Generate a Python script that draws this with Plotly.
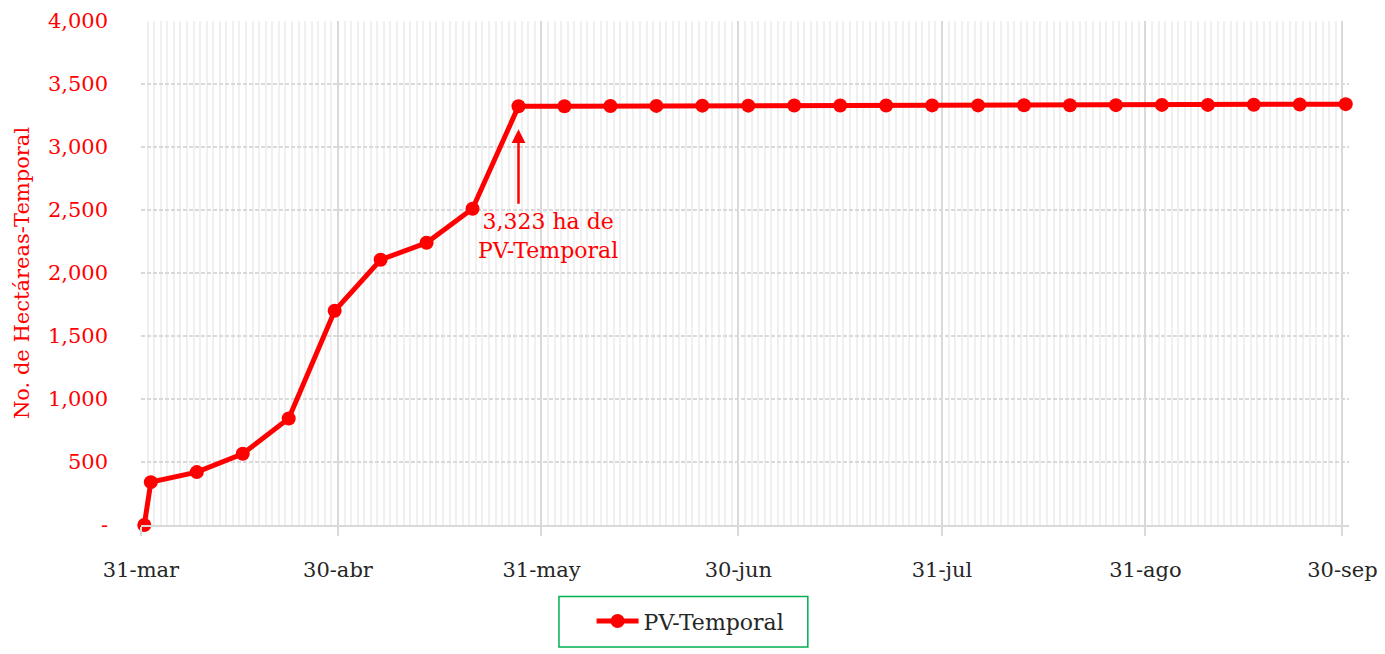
import plotly.graph_objects as go

dates = ["2023-03-31", "2023-04-01", "2023-04-08", "2023-04-15", "2023-04-22", "2023-04-29",
         "2023-05-06", "2023-05-13", "2023-05-20", "2023-05-27", "2023-06-03", "2023-06-10",
         "2023-06-17", "2023-06-24", "2023-07-01", "2023-07-08", "2023-07-15", "2023-07-22",
         "2023-07-29", "2023-08-05", "2023-08-12", "2023-08-19", "2023-08-26", "2023-09-02",
         "2023-09-09", "2023-09-16", "2023-09-23", "2023-09-30"]
hectareas = [0, 340, 420, 565, 845, 1700, 2105, 2240, 2510, 3323, 3324, 3325, 3326, 3328,
             3328, 3329, 3329, 3329, 3330, 3330, 3331, 3331, 3332, 3334, 3334, 3335, 3337, 3340]
tick_dates = ["2023-03-31", "2023-04-30", "2023-05-31", "2023-06-30", "2023-07-31",
              "2023-08-31", "2023-09-30"]
tick_labels = ["31-mar", "30-abr", "31-may", "30-jun", "31-jul", "31-ago", "30-sep"]
y_vals = [0, 500, 1000, 1500, 2000, 2500, 3000, 3500, 4000]
y_labels = ["-", "500", "1,000", "1,500", "2,000", "2,500", "3,000", "3,500", "4,000"]

RED = "#FF0000"
FONT = "DejaVu Serif"
DARK = "#262626"
x_noon = [d + " 12:00" for d in dates]

fig = go.Figure()
fig.add_trace(go.Scatter(
    x=x_noon, y=hectareas, mode="lines+markers", name="PV-Temporal",
    line=dict(color=RED, width=5), marker=dict(color=RED, size=14),
    cliponaxis=False,
))

# arrow
fig.add_annotation(x=x_noon[9], y=3140, ax=0, ay=76, xref="x", yref="y",
                   text="", showarrow=True, arrowhead=2, arrowsize=1.1,
                   arrowwidth=2.5, arrowcolor=RED)
fig.add_annotation(x="2023-06-01 00:00", y=2290, xref="x", yref="y",
                   text="3,323 ha de<br>PV-Temporal", showarrow=False,
                   font=dict(family=FONT, size=22, color=RED), align="center")

# legend frame
fig.add_shape(type="rect", xref="paper", yref="paper",
              x0=0.346, x1=0.552, y0=-0.2421, y1=-0.1417,
              line=dict(color="#00B050", width=1.5), fillcolor="rgba(0,0,0,0)")

fig.update_layout(
    width=1377, height=646,
    margin=dict(l=133, r=36, t=13, b=125),
    paper_bgcolor="white", plot_bgcolor="white",
    font=dict(family=FONT, size=21, color=DARK),
    showlegend=True,
    legend=dict(orientation="h", x=0.373, xanchor="left", y=-0.191, yanchor="middle",
                bgcolor="rgba(0,0,0,0)", borderwidth=0, itemwidth=42,
                font=dict(family=FONT, size=22, color=DARK)),
    xaxis=dict(
        type="date", range=["2023-03-31", "2023-10-01"], automargin=False,
        tickvals=tick_dates, ticktext=tick_labels, ticklabeloverflow="allow",
        showgrid=True, gridcolor="#D9D9D9", gridwidth=2,
        ticks="outside", ticklen=9, tickcolor="#D9D9D9", tickwidth=2,
        ticklabelstandoff=16,
        showline=True, linecolor="#D9D9D9", linewidth=2,
        minor=dict(dtick=86400000, tick0="2023-03-31", showgrid=True,
                   gridcolor="#F0F0F0", gridwidth=2),
        tickfont=dict(family=FONT, size=21, color=DARK),
        zeroline=False,
    ),
    yaxis=dict(
        range=[0, 4000], tickvals=y_vals, ticktext=y_labels, automargin=False,
        ticklabeloverflow="allow",
        showgrid=True, gridcolor="#D9D9D9", gridwidth=2, griddash="4px,2px",
        tickfont=dict(family=FONT, size=21, color=RED),
        ticklabelstandoff=32,
        showline=False, zeroline=False,
        title=dict(text="No. de Hectáreas-Temporal",
                   font=dict(family=FONT, size=21, color=RED), standoff=12),
    ),
)

fig.write_html("out.html")
